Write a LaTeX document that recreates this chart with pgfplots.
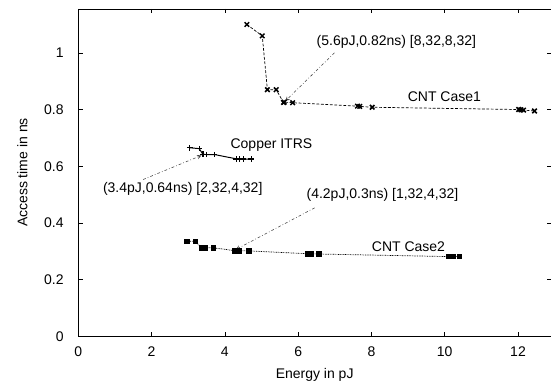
\documentclass[border=0pt]{standalone}
\usepackage{fontspec}
\setmainfont{Liberation Sans}
\usepackage{pgfplots}
\pgfplotsset{compat=1.18}
\begin{document}
\begin{tikzpicture}
\begin{axis}[
  name=ax,
  scale only axis,
  width=338pt, height=234pt,
  xmin=0, xmax=12.9, ymin=0, ymax=1.155,
  xtick={0,2,...,12}, ytick={0,0.2,...,1.0},
  tick align=inside, major tick length=3pt,
  axis line style={line width=0.6pt},
  tick style={line width=0.5pt,black},
  /pgf/number format/assume math mode=true,
  ticklabel style={font=\fontsize{10}{12}\selectfont},
  yticklabel style={xshift=-7pt},
  xticklabel style={yshift=-3.8pt},
  xlabel={Energy in pJ}, ylabel={Access time in ns},
  xlabel style={font=\fontsize{10}{12}\selectfont, at={(axis description cs:0.5,0)}, anchor=north, inner sep=0pt, yshift=-22.6pt},
  ylabel style={font=\fontsize{10}{12}\selectfont, at={(axis description cs:0,0.5)}, anchor=center, yshift=40pt},
  clip=false,
]
% CNT Case1
\addplot[black, line width=0.5pt, dash pattern=on 2pt off 1.2pt, mark=x, mark size=2.3pt, mark options={solid, line width=1.1pt}] coordinates {
 (4.60,1.100) (5.02,1.060) (5.16,0.870) (5.40,0.870) (5.60,0.825) (5.62,0.826) (5.85,0.824)
 (7.62,0.812) (7.68,0.811) (8.02,0.808) (12.02,0.800) (12.08,0.799) (12.15,0.798) (12.45,0.795)};
% Copper ITRS
\addplot[black, line width=0.7pt, mark=+, mark size=2pt, mark options={solid, line width=1pt}] coordinates {
 (3.04,0.665) (3.30,0.662) (3.40,0.642) (3.50,0.641) (3.72,0.641) (4.31,0.626) (4.40,0.625) (4.51,0.625) (4.72,0.625)};
% CNT Case2
\addplot[black, line width=0.5pt, dash pattern=on 0.6pt off 0.6pt, mark=square*, mark size=1.6pt, mark options={solid}] coordinates {
 (2.96,0.335) (3.19,0.335) (3.37,0.312) (3.46,0.312) (3.68,0.312) (4.27,0.302) (4.40,0.302) (4.66,0.301)
 (6.26,0.291) (6.36,0.291) (6.56,0.290) (10.10,0.281) (10.22,0.281) (10.40,0.281)};
% annotations
\draw[->, >=stealth, black!75, line width=0.4pt, dash pattern=on 2pt off 1.5pt on 0.5pt off 1.5pt] (axis cs:6.99,1.000) -- (axis cs:5.65,0.83);
\draw[->, >=stealth, black!75, line width=0.4pt, dash pattern=on 2pt off 1.5pt on 0.5pt off 1.5pt] (axis cs:1.77,0.553) -- (axis cs:3.36,0.638);
\draw[->, >=stealth, black!75, line width=0.4pt, dash pattern=on 2pt off 1.5pt on 0.5pt off 1.5pt] (axis cs:6.45,0.453) -- (axis cs:4.30,0.306);
\node[font=\fontsize{10}{12}\selectfont, inner sep=0pt] at (axis cs:8.68,1.040) {(5.6pJ,0.82ns) [8,32,8,32]};
\node[font=\fontsize{10}{12}\selectfont, inner sep=0pt] at (axis cs:2.85,0.520) {(3.4pJ,0.64ns) [2,32,4,32]};
\node[font=\fontsize{10}{12}\selectfont, inner sep=0pt] at (axis cs:8.30,0.500) {(4.2pJ,0.3ns) [1,32,4,32]};
\node[font=\fontsize{10}{12}\selectfont, inner sep=0pt] at (axis cs:9.99,0.845) {CNT Case1};
\node[font=\fontsize{10}{12}\selectfont, inner sep=0pt] at (axis cs:5.27,0.676) {Copper ITRS};
\node[font=\fontsize{10}{12}\selectfont, inner sep=0pt] at (axis cs:9.01,0.316) {CNT Case2};
\end{axis}
\pgfresetboundingbox
\path[use as bounding box] ([xshift=-56pt,yshift=-34.3pt]ax.south west) rectangle ([yshift=6.4pt]ax.north east);
\end{tikzpicture}
\end{document}
